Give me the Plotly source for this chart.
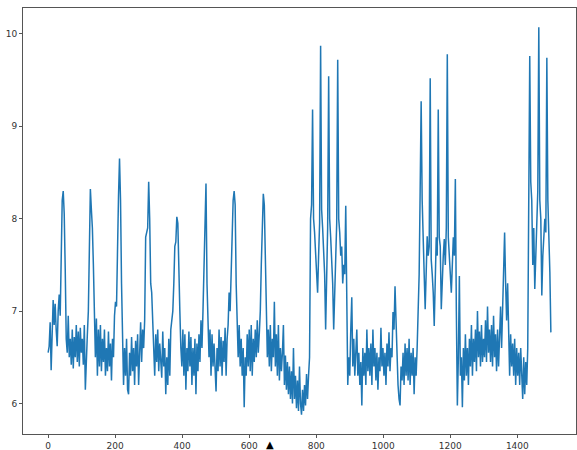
import plotly.graph_objects as go

x_start = 0
x_step = 3

block_00 = [6.55, 6.62, 6.88, 6.36, 6.75, 7.12, 6.85, 7.08, 6.8, 6.62, 7.0, 7.18, 6.95, 7.5, 8.2, 8.3, 8.05, 7.45, 6.7, 6.55]
block_01 = [6.95, 6.5, 6.7, 6.42, 6.8, 6.38, 6.72, 6.5, 6.85, 6.45, 6.78, 6.4, 6.82, 6.55, 6.7, 6.42, 6.85, 6.15, 6.6, 6.75]
block_02 = [7.0, 7.6, 8.32, 8.1, 7.9, 7.5, 6.7, 6.5, 6.92, 6.3, 6.8, 6.4, 6.85, 6.35, 6.7, 6.45, 6.8, 6.3, 6.6, 6.35]
block_03 = [6.78, 6.4, 6.65, 6.25, 6.7, 6.5, 6.95, 7.1, 7.05, 8.0, 8.25, 8.65, 8.2, 7.3, 6.5, 6.2, 6.6, 6.3, 6.7, 6.15]
block_04 = [6.1, 6.55, 6.3, 6.72, 6.35, 6.6, 6.2, 6.68, 6.4, 6.75, 6.2, 6.5, 6.88, 6.45, 6.8, 6.6, 6.9, 7.8, 7.85, 7.9]
block_05 = [8.4, 8.0, 7.3, 7.2, 6.9, 6.6, 6.3, 6.75, 6.45, 6.8, 6.35, 6.65, 6.5, 6.28, 6.78, 6.4, 6.6, 6.1, 6.5, 6.2]
block_06 = [6.7, 6.3, 6.8, 6.9, 7.0, 7.3, 7.7, 7.75, 8.02, 7.95, 7.6, 7.0, 6.6, 6.4, 6.8, 6.3, 6.75, 6.15, 6.6, 6.35]
block_07 = [6.78, 6.4, 6.72, 6.2, 6.6, 6.3, 6.7, 6.1, 6.65, 6.35, 6.75, 6.45, 6.9, 6.6, 7.0, 7.6, 8.1, 8.38, 7.3, 6.7]
block_08 = [6.5, 6.8, 6.3, 6.75, 6.4, 6.65, 6.25, 6.13, 6.6, 6.35, 6.8, 6.4, 6.72, 6.3, 6.68, 6.45, 6.82, 6.3, 6.7, 6.85]
block_09 = [7.2, 7.0, 7.4, 7.9, 8.2, 8.3, 8.15, 7.3, 6.8, 6.5, 6.85, 6.4, 6.7, 6.3, 6.6, 5.96, 6.5, 6.3, 6.75, 6.4]
block_10 = [6.8, 6.35, 6.85, 6.3, 6.7, 6.45, 6.8, 6.5, 6.9, 6.55, 6.75, 7.0, 7.5, 8.1, 8.27, 8.15, 7.6, 7.1, 6.5, 6.8]
block_11 = [6.4, 6.85, 6.35, 6.7, 6.5, 7.1, 6.4, 6.75, 6.3, 6.85, 6.25, 6.6, 6.35, 6.55, 6.85, 6.2, 6.52, 6.15, 6.45, 6.1]
block_12 = [6.4, 6.05, 6.35, 6.0, 6.6, 6.05, 6.3, 5.95, 6.25, 5.92, 6.4, 6.0, 5.88, 6.15, 5.92, 6.2, 5.98, 6.32, 6.05, 6.3]
block_13 = [6.5, 8.0, 8.15, 9.18, 8.0, 7.85, 7.65, 7.5, 7.2, 7.6, 7.95, 9.87, 8.1, 7.9, 7.6, 7.4, 6.8, 7.3, 7.9, 9.54]
block_14 = [8.0, 7.8, 7.6, 7.3, 6.8, 7.2, 7.5, 7.95, 9.72, 8.0, 7.85, 7.6, 7.7, 7.3, 7.5, 7.4, 8.14, 7.1, 6.2, 6.5]
block_15 = [6.3, 6.8, 7.15, 6.4, 6.7, 6.3, 6.6, 6.8, 6.3, 6.55, 6.2, 6.45, 5.98, 6.6, 6.3, 6.55, 6.2, 6.8, 6.35, 6.6]
block_16 = [6.3, 6.65, 6.2, 6.8, 6.4, 6.6, 6.25, 6.55, 6.15, 6.5, 6.35, 6.82, 6.4, 6.6, 6.3, 6.55, 6.2, 6.65, 6.4, 6.77]
block_17 = [6.35, 6.6, 6.5, 6.99, 6.8, 7.27, 6.9, 6.48, 6.2, 6.05, 5.98, 6.4, 6.25, 6.55, 6.2, 6.65, 6.3, 6.6, 6.25, 6.7]
block_18 = [6.2, 6.55, 6.3, 6.6, 6.1, 6.5, 6.3, 6.6, 6.9, 7.4, 8.3, 9.27, 8.2, 7.9, 7.4, 7.02, 7.5, 7.81, 7.6, 7.7]
block_19 = [9.52, 7.56, 7.4, 7.2, 6.84, 7.3, 7.8, 7.6, 9.18, 7.8, 7.7, 7.02, 7.4, 7.6, 7.78, 7.5, 7.9, 9.78, 7.8, 7.56]
block_20 = [7.4, 7.2, 7.5, 7.8, 7.6, 8.43, 7.0, 5.98, 6.5, 7.38, 6.3, 6.5, 5.96, 6.6, 6.25, 6.75, 6.3, 6.6, 6.2, 6.7]
block_21 = [6.4, 6.85, 6.3, 6.7, 6.45, 6.8, 6.35, 7.0, 6.5, 6.78, 6.4, 6.85, 6.45, 6.7, 6.5, 6.9, 6.45, 7.05, 6.55, 6.8]
block_22 = [6.45, 6.85, 6.4, 6.95, 6.5, 6.75, 6.35, 6.8, 6.4, 6.75, 7.05, 6.6, 7.0, 7.3, 7.85, 7.3, 6.9, 7.3, 6.6, 6.3]
block_23 = [6.75, 6.4, 6.65, 6.3, 6.7, 6.2, 6.6, 6.3, 6.55, 6.2, 6.6, 6.3, 6.05, 6.5, 6.1, 6.45, 6.2, 6.6, 7.8, 9.76]
block_24 = [8.4, 8.2, 7.5, 7.9, 7.24, 7.6, 8.0, 8.3, 10.07, 8.2, 8.0, 7.17, 7.6, 7.9, 8.0, 7.85, 9.74, 8.2, 7.85, 7.42, 6.77]

blocks = [block_00, block_01, block_02, block_03, block_04, block_05, block_06, block_07,
          block_08, block_09, block_10, block_11, block_12, block_13, block_14, block_15,
          block_16, block_17, block_18, block_19, block_20, block_21, block_22, block_23,
          block_24]
y_vals = [v for b in blocks for v in b]
x_vals = [x_start + i * x_step for i in range(len(y_vals))]

x_ticks = [0, 200, 400, 600, 800, 1000, 1200, 1400]
y_ticks = [6, 7, 8, 9, 10]

# matplotlib-like 5% autoscale margins
xmin, xmax = min(x_vals), max(x_vals)
ymin, ymax = min(y_vals), max(y_vals)
xm = 0.05 * (xmax - xmin)
ym = 0.05 * (ymax - ymin)

fig = go.Figure()
fig.add_trace(go.Scatter(x=x_vals, y=y_vals, mode="lines",
                         line=dict(color="#1f77b4", width=1.5),
                         showlegend=False, hoverinfo="skip"))

axis_common = dict(showgrid=False, zeroline=False, showline=True, mirror=True,
                   linecolor="#555555", linewidth=1, ticks="outside", ticklen=3,
                   tickcolor="#555555", tickwidth=1, automargin=False,
                   tickfont=dict(family="DejaVu Sans", size=9, color="#333333"))

fig.update_xaxes(range=[xmin - xm, xmax + xm], tickvals=x_ticks,
                 ticktext=[str(t) for t in x_ticks], **axis_common)
fig.update_yaxes(range=[ymin - ym, ymax + ym], tickvals=y_ticks,
                 ticktext=[str(t) for t in y_ticks], **axis_common)

fig.update_layout(width=577, height=450, margin=dict(l=23, r=1, t=8, b=16),
                  paper_bgcolor="white", plot_bgcolor="white")

fig.add_annotation(text="▲", xref="paper", yref="paper", x=0.447, y=-0.024,
                   xanchor="center", yanchor="middle", showarrow=False,
                   font=dict(family="DejaVu Sans", size=10, color="black"))

fig.write_html("out.html", config={"displayModeBar": False},
               post_script="document.body.style.margin='0';")
